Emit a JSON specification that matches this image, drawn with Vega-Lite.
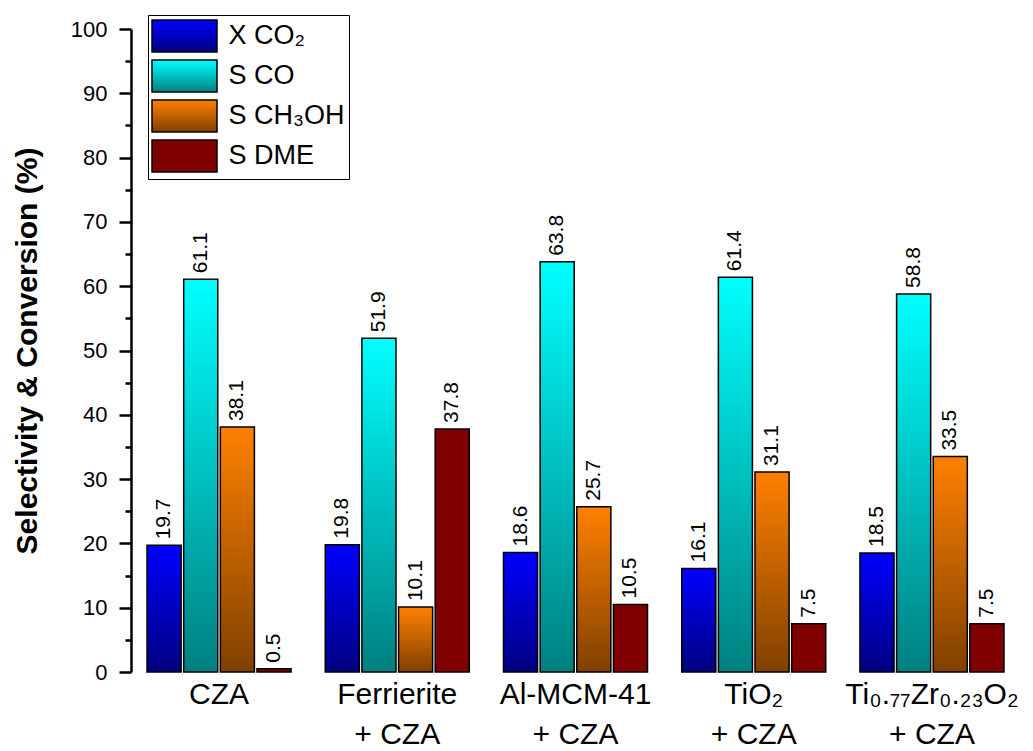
{
  "$schema": "https://vega.github.io/schema/vega-lite/v6.json",
  "autosize": {"type": "none"},
  "width": 889,
  "height": 643,
  "padding": {"left": 131, "top": 29, "right": 13, "bottom": 79},
  "background": "white",
  "config": {
    "view": {"stroke": null},
    "font": "Liberation Sans"
  },
  "data": {
    "values": [
      {"catalyst": "CZA", "series": "X CO₂", "value": 19.7},
      {"catalyst": "CZA", "series": "S CO", "value": 61.1},
      {"catalyst": "CZA", "series": "S CH₃OH", "value": 38.1},
      {"catalyst": "CZA", "series": "S DME", "value": 0.5},
      {"catalyst": "Ferrierite + CZA", "series": "X CO₂", "value": 19.8},
      {"catalyst": "Ferrierite + CZA", "series": "S CO", "value": 51.9},
      {"catalyst": "Ferrierite + CZA", "series": "S CH₃OH", "value": 10.1},
      {"catalyst": "Ferrierite + CZA", "series": "S DME", "value": 37.8},
      {"catalyst": "Al-MCM-41 + CZA", "series": "X CO₂", "value": 18.6},
      {"catalyst": "Al-MCM-41 + CZA", "series": "S CO", "value": 63.8},
      {"catalyst": "Al-MCM-41 + CZA", "series": "S CH₃OH", "value": 25.7},
      {"catalyst": "Al-MCM-41 + CZA", "series": "S DME", "value": 10.5},
      {"catalyst": "TiO₂ + CZA", "series": "X CO₂", "value": 16.1},
      {"catalyst": "TiO₂ + CZA", "series": "S CO", "value": 61.4},
      {"catalyst": "TiO₂ + CZA", "series": "S CH₃OH", "value": 31.1},
      {"catalyst": "TiO₂ + CZA", "series": "S DME", "value": 7.5},
      {"catalyst": "Ti₀.₇₇Zr₀.₂₃O₂ + CZA", "series": "X CO₂", "value": 18.5},
      {"catalyst": "Ti₀.₇₇Zr₀.₂₃O₂ + CZA", "series": "S CO", "value": 58.8},
      {"catalyst": "Ti₀.₇₇Zr₀.₂₃O₂ + CZA", "series": "S CH₃OH", "value": 33.5},
      {"catalyst": "Ti₀.₇₇Zr₀.₂₃O₂ + CZA", "series": "S DME", "value": 7.5}
    ]
  },
  "encoding": {
    "x": {
      "field": "catalyst",
      "type": "nominal",
      "sort": null,
      "scale": {"paddingInner": 0.192, "paddingOuter": 0.09},
      "axis": {
        "title": null,
        "domain": false,
        "ticks": false,
        "labelAngle": 0,
        "labelFontSize": 30,
        "labelColor": "black",
        "labelPadding": 7,
        "labelLimit": 400,
        "labelOverlap": false,
        "labelBound": false,
        "labelLineHeight": 40,
        "labelBaseline": "top",
        "labelExpr": "datum.label == 'CZA' ? 'CZA' : [replace(datum.label, ' + CZA', ''), '+ CZA']"
      }
    },
    "xOffset": {
      "field": "series",
      "type": "nominal",
      "scale": {"domain": ["X CO₂", "S CO", "S CH₃OH", "S DME"], "paddingInner": 0.07}
    },
    "y": {
      "field": "value",
      "type": "quantitative",
      "scale": {"domain": [0, 100], "nice": false},
      "axis": {
        "title": "Selectivity & Conversion (%)",
        "titleFontSize": 30,
        "titleFontWeight": "bold",
        "titleColor": "black",
        "titlePadding": 28,
        "grid": false,
        "domainColor": "black",
        "domainWidth": 2.5,
        "tickColor": "black",
        "tickWidth": 2.5,
        "values": [0, 5, 10, 15, 20, 25, 30, 35, 40, 45, 50, 55, 60, 65, 70, 75, 80, 85, 90, 95, 100],
        "tickSize": {"condition": {"test": "datum.value % 10 !== 0", "value": 6}, "value": 12},
        "labelExpr": "datum.value % 10 === 0 ? datum.label : ''",
        "labelFontSize": 22,
        "labelColor": "black",
        "labelPadding": 12
      }
    }
  },
  "layer": [
    {
      "mark": {"type": "bar", "stroke": "black", "strokeWidth": 1.5},
      "encoding": {
        "fill": {
          "field": "series",
          "type": "nominal",
          "scale": {
            "domain": ["X CO₂", "S CO", "S CH₃OH", "S DME"],
            "range": [
              {"expr": "{gradient: 'linear', x1: 0, y1: 0, x2: 0, y2: 1, stops: [{offset: 0, color: '#0000ff'}, {offset: 1, color: '#000080'}]}"},
              {"expr": "{gradient: 'linear', x1: 0, y1: 0, x2: 0, y2: 1, stops: [{offset: 0, color: '#00ffff'}, {offset: 1, color: '#008080'}]}"},
              {"expr": "{gradient: 'linear', x1: 0, y1: 0, x2: 0, y2: 1, stops: [{offset: 0, color: '#ff8000'}, {offset: 1, color: '#804000'}]}"},
              "#800000"
            ]
          },
          "legend": {
            "title": null,
            "orient": "none",
            "legendX": 17,
            "legendY": -14,
            "symbolType": "M-2,-0.98H2V0.98H-2Z",
            "symbolSize": 1056,
            "symbolStrokeColor": "black",
            "symbolStrokeWidth": 1.5,
            "symbolOffset": 15.5,
            "labelOffset": 27,
            "labelFontSize": 27,
            "labelColor": "black",
            "labelLimit": 400,
            "rowPadding": 2,
            "padding": 4,
            "strokeColor": "black",
            "fillColor": "white"
          }
        }
      }
    },
    {
      "mark": {"type": "text", "angle": 270, "align": "left", "baseline": "middle", "dx": 6, "fontSize": 21, "color": "black"},
      "encoding": {
        "text": {"field": "value", "type": "quantitative", "format": ".1f"}
      }
    }
  ]
}
